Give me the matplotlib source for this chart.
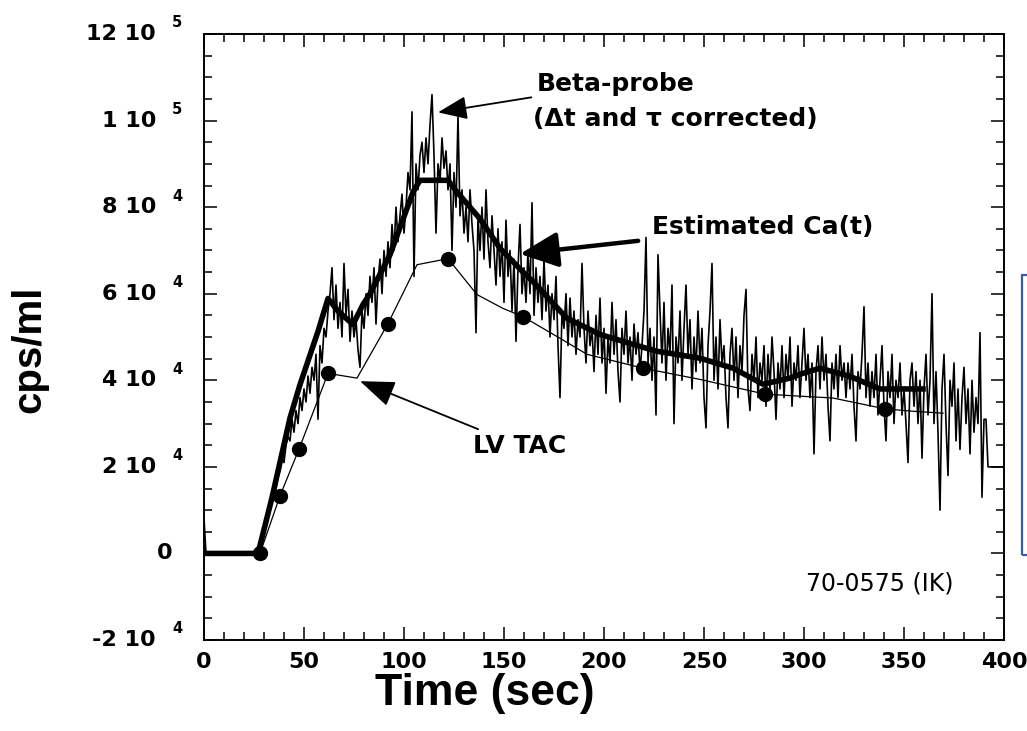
import numpy as np
import matplotlib
matplotlib.use("Agg")
import matplotlib.pyplot as plt
from matplotlib.patches import Rectangle
from matplotlib.ticker import MultipleLocator

plt.rcParams['font.family'] = ['DejaVu Sans']

# beta-probe trace, one sample per second from t = 0 to 400 s, in units of 1000 cps/ml
beta_k = (
    [8] + [0] * 27 +  # t = 0..27
    [1, 3, 5, 7, 9, 10, 12, 14, 15, 18, 19, 22, 21, 25, 27, 26, 31, 28, 33, 30,
     36, 33, 38, 35, 41, 37, 43, 40, 46, 31, 48, 44, 52, 50] +  # 28..61
    [56, 60, 66, 54, 62, 52, 58, 50, 67, 55, 61, 49, 56, 50, 54, 47, 43, 56, 52] +  # 62..80
    [60, 55, 64, 58, 66, 53, 63, 68, 60, 70, 64, 72, 66, 76, 70, 80, 72, 78, 83, 74] +  # 81..100
    [80, 88, 84, 102, 64, 90, 84, 92, 95, 88, 96, 90, 99, 106, 92, 74, 90, 86, 96, 89,
     93, 84, 90, 70, 88, 80, 101, 78, 84, 74] +  # 101..130
    [80, 72, 84, 76, 70, 51, 78, 70, 80, 68, 84, 72, 66, 78, 70, 62, 75, 64, 72, 58,
     77, 64, 70, 56, 68, 49, 66, 76, 60, 66] +  # 131..160
    [58, 70, 60, 81, 55, 66, 58, 64, 54, 68, 56, 62, 50, 60, 54, 64, 48, 36, 56, 52,
     60, 48, 59, 50, 56, 46, 54, 50, 67, 52, 44, 56, 48, 52, 42, 55, 46, 59, 44, 52] +  # 161..200
    [37, 50, 44, 58, 46, 54, 42, 35, 52, 46, 56, 44, 50, 40, 53, 46, 51, 42, 48, 56,
     73, 44, 52, 40, 50, 32, 69, 56, 44, 58, 40, 52, 46, 62, 30, 50, 44, 56, 40, 52] +  # 201..240
    [62, 46, 54, 38, 50, 42, 56, 44, 52, 36, 29, 48, 56, 67, 40, 50, 38, 54, 44, 48,
     36, 29, 46, 52, 40, 50, 36, 48, 42, 55, 61, 38, 33, 46, 40, 50, 36, 44, 40, 48] +  # 241..280
    [34, 46, 38, 50, 42, 31, 44, 38, 48, 36, 46, 40, 50, 34, 44, 40, 48, 36, 44, 52,
     40, 46, 36, 44, 23, 42, 48, 38, 50, 40, 46, 34, 26, 44, 38, 46, 36, 48, 40, 44] +  # 281..320
    [36, 44, 38, 46, 34, 26, 42, 38, 46, 57, 36, 44, 34, 42, 36, 46, 32, 40, 48, 34,
     26, 42, 36, 46, 30, 40, 36, 44, 32, 38, 30, 21, 40, 44, 34, 42, 30, 40, 22, 38] +  # 321..360
    [46, 32, 40, 60, 30, 42, 28, 10, 38, 46, 30, 18, 40, 34, 44, 26, 38, 24, 36, 43,
     30, 38, 23, 40, 28, 36, 30, 51, 13, 31, 31, 20, 20, 20, 20, 20, 20, 20, 20, 20]  # 361..400
)
beta_t = np.arange(len(beta_k))

# estimated Ca(t), thick curve (1000 cps/ml)
ca_t = [0, 27, 34, 43, 48, 57, 62, 67, 74.5, 79.5, 83, 93, 104.5, 108, 122, 126.5,
        138, 148, 159.5, 164.5, 181.5, 198, 214.5, 226.5, 248, 264.5, 279.5, 293,
        298, 308, 323, 338, 359.5]
ca_k = [0, 0, 12.9, 31.3, 39, 51.3, 58.9, 56, 52.9, 57.5, 60, 69, 83.5, 86.2, 86.2, 83.5,
        77.3, 70.5, 65, 62.8, 54.3, 50.6, 48.3, 46.7, 45.1, 42.8, 39.1, 40.5,
        41.4, 42.8, 40.9, 38, 38]

# LV TAC (1000 cps/ml), dots at the sampled frames
lv_t = [0, 28, 38, 47.5, 62, 76.5, 92, 106.5, 122, 136.5, 149.5, 159.5, 178, 191.5,
        219.5, 248, 280.5, 314.5, 340.5, 353, 369.5]
lv_k = [0, 0, 13.3, 24.1, 41.6, 40.5, 53.1, 66.7, 68.1, 59.8, 56.6, 54.7, 49.7, 46,
        42.8, 40.2, 36.8, 35.9, 33.4, 32.9, 32.4]
lv_dots = [1, 2, 3, 4, 6, 8, 11, 14, 16, 18]

# tick labels
x_ticks = [0, 50, 100, 150, 200, 250, 300, 350, 400]
y_ticks = [-20000, 0, 20000, 40000, 60000, 80000, 100000, 120000]
y_mant = ['-2', '0', '2', '4', '6', '8', '1', '12']
y_exp = ['4', '', '4', '4', '4', '4', '5', '5']

fig = plt.figure(figsize=(10.27, 7.31), dpi=100)
ax = fig.add_axes([204 / 1027, 1 - 640 / 731, 800 / 1027, 606 / 731])

ax.plot(beta_t, np.array(beta_k) * 1000, color='black', lw=1.2, zorder=2)
ax.plot(lv_t, np.array(lv_k) * 1000, color='black', lw=0.9, marker='o', ms=10,
        markevery=lv_dots, zorder=3)
ax.plot(ca_t, np.array(ca_k) * 1000, color='black', lw=4.0, solid_joinstyle='round', zorder=4)

ax.set_xlim(0, 400)
ax.set_ylim(-20000, 120000)
ax.set_xticks(x_ticks)
ax.set_xticklabels([str(v) for v in x_ticks])
ax.xaxis.set_minor_locator(MultipleLocator(10))
ax.set_yticks(y_ticks)
ax.set_yticklabels([])
ax.yaxis.set_minor_locator(MultipleLocator(5000))
ax.tick_params(which='both', direction='in', top=True, right=True, width=1.1)
ax.tick_params(which='major', length=9.5)
ax.tick_params(which='minor', length=5.5)
ax.tick_params(axis='x', which='major', pad=8.5, labelsize=16)
for lbl in ax.get_xticklabels():
    lbl.set_fontweight('bold')
for s in ax.spines.values():
    s.set_linewidth(1.4)

# y tick labels written as "m 10" plus a raised exponent
for yv, m, e in zip(y_ticks, y_mant, y_exp):
    if e:
        ax.annotate(m + ' 10', xy=(0, yv), xycoords=('axes fraction', 'data'),
                    xytext=(-34.5, 0), textcoords='offset points', ha='right', va='center',
                    fontsize=16, fontweight='bold')
        ax.annotate(e, xy=(0, yv), xycoords=('axes fraction', 'data'),
                    xytext=(-23, 8), textcoords='offset points', ha='left', va='center',
                    fontsize=10.5, fontweight='bold')
    else:
        ax.annotate(m, xy=(0, yv), xycoords=('axes fraction', 'data'),
                    xytext=(-23, 0), textcoords='offset points', ha='right', va='center',
                    fontsize=16, fontweight='bold')

ax.set_xlabel('Time (sec)', fontsize=32, fontweight='bold', family='Liberation Sans')
ax.xaxis.set_label_coords(0.351, -0.055)
ax.set_ylabel('cps/ml', fontsize=29, fontweight='bold', family='Liberation Sans')
ax.yaxis.set_label_coords(-0.195, 0.479)

# annotations
ax.annotate('Beta-probe', xy=(117, 101900), xytext=(166.5, 108500),
            fontsize=18, fontweight='bold', ha='left', va='center',
            arrowprops=dict(arrowstyle='-|>,head_length=1.0,head_width=0.4',
                            color='black', lw=1.3, shrinkA=2, shrinkB=0))
ax.text(164.5, 100400, '(\u0394t and \u03c4 corrected)', fontsize=18,
        fontweight='bold', ha='left', va='center')
ax.annotate('Estimated Ca(t)', xy=(158, 69200), xytext=(224, 75400),
            fontsize=18, fontweight='bold', ha='left', va='center',
            arrowprops=dict(arrowstyle='-|>,head_length=1.3,head_width=0.6',
                            color='black', lw=3.2, shrinkA=8, shrinkB=0))
ax.annotate('LV TAC', xy=(78, 39800), xytext=(134.5, 24800),
            fontsize=18, fontweight='bold', ha='left', va='center',
            arrowprops=dict(arrowstyle='-|>,head_length=1.2,head_width=0.45',
                            color='black', lw=1.3, shrinkA=4, shrinkB=0))
ax.text(0.752, 0.094, '70-0575 (IK)', transform=ax.transAxes, fontsize=17,
        ha='left', va='center')

# blue frame cut by the right edge
fig.add_artist(Rectangle((1022 / 1027, 1 - 555 / 731), 0.05, 280 / 731,
                         transform=fig.transFigure, fill=False,
                         edgecolor='#3b5ea6', lw=1.6, clip_on=False))

fig.savefig('out.png', dpi=100)
